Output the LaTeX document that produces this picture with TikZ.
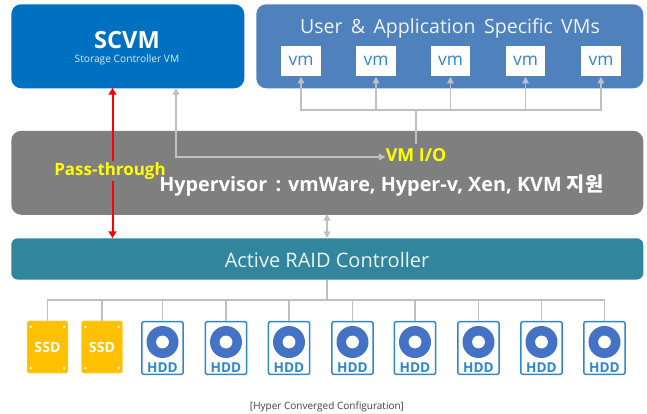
\documentclass[tikz,border=0pt]{standalone}
\usepackage{fontspec}
\setmainfont{Open Sans}
\newfontfamily\cjk{Noto Sans CJK KR}
\usetikzlibrary{arrows.meta}
\definecolor{scvmblue}{HTML}{0070C0}
\definecolor{userblue}{HTML}{4F81BD}
\definecolor{hypgray}{HTML}{7F7F7F}
\definecolor{raidteal}{HTML}{31859C}
\definecolor{ssdgold}{HTML}{FFC000}
\definecolor{hddedge}{HTML}{2E86CC}
\definecolor{hddblue}{HTML}{4472C4}
\definecolor{linkgray}{HTML}{BFBFBF}
\definecolor{vmtext}{HTML}{2E86C8}
\definecolor{ioyellow}{HTML}{FFFF00}
\tikzset{
  x=0.75pt,y=-0.75pt,
  panel/.style={rounded corners=7.5pt,inner sep=0pt,anchor=north west},
  vmbox/.style={fill=white,minimum width=29.5pt,minimum height=23.2pt,inner sep=0pt,text=vmtext,font=\fontsize{13}{13}\selectfont},
  link/.style={draw=linkgray,line width=1.1pt},
  linkarrow/.style={link,-{Triangle[length=5pt,width=5pt]}},
  ssdbox/.style={fill=ssdgold,draw=ssdgold!70!white,line width=.4pt,rounded corners=1.5pt,minimum width=30.5pt,minimum height=39pt,inner sep=0pt,text=white,font=\fontsize{10.6}{11}\selectfont\bfseries},
  hddbox/.style={draw=hddedge,line width=1.1pt,fill=white,rounded corners=1.5pt,minimum width=31pt,minimum height=39.5pt,inner sep=0pt},
  hddlabel/.style={text=hddedge,font=\fontsize{10.2}{11}\selectfont\bfseries,inner sep=0pt},
}
\newcommand{\ssdunit}[3]{%
  \node[ssdbox] (#1) at (#2,347) {#3};
  \foreach \dx in {-16.5,16.5}\foreach \dy in {-20,21}
    \fill[white] (#2+\dx,347+\dy) circle (1pt);
}
\newcommand{\hddunit}[2]{%
  \node[hddbox] (#1) at (#2,348) {};
  \fill[hddblue] (#2,342) circle (12pt);
  \fill[white] (#2,342) circle (4.8pt);
  \node[hddlabel] at (#2,367.5) {HDD};
}
\begin{document}
\begin{tikzpicture}
\useasboundingbox (0,0) rectangle (647,414);
% panels
\node[panel,fill=scvmblue,minimum width=174.75pt,minimum height=63pt] (scvm) at (11,4) {};
\node[panel,fill=userblue,minimum width=290.25pt,minimum height=63pt] (user) at (256,4) {};
\node[panel,fill=hypgray,minimum width=474pt,minimum height=63pt] (hyper) at (11,130.5) {};
\node[panel,rounded corners=5pt,fill=raidteal,minimum width=474pt,minimum height=31pt] (raid) at (11,238) {};
% panel texts
\node[text=white,font=\fontsize{17.7}{18}\selectfont\bfseries,inner sep=0pt] (scvmt) at (127,40.5) {SCVM};
\node[text=white!85!scvmblue,font=\fontsize{7.65}{8}\selectfont,inner sep=0pt] (scvms) at (127,59.5) {Storage Controller VM};
\node[text=white!90!userblue,font=\fontsize{14.67}{16}\selectfont,inner sep=0pt] (usert) at (450,28.5) {User \,\&\, Application \,Specific \,VMs};
\node[text=white!90!raidteal,font=\fontsize{15}{16}\selectfont,inner sep=0pt] (raidt) at (327,260) {Active RAID Controller};
% vm boxes
\node[vmbox] (vm1) at (301,61) {vm};
\node[vmbox] (vm2) at (376,61) {vm};
\node[vmbox] (vm3) at (450.5,61) {vm};
\node[vmbox] (vm4) at (525.5,61) {vm};
\node[vmbox] (vm5) at (601,61) {vm};
% VM I/O fabric
\coordinate (stemtop) at (416,110);
\coordinate (stembot) at (416,144);
\draw[link] (stemtop) -- (stembot);
\foreach \i in {1,...,5}
  \draw[linkarrow] (stemtop) -| (vm\i.south);
\coordinate (scvmport) at (176,88);
\node[text=ioyellow,font=\fontsize{13.4}{14}\selectfont\bfseries,inner sep=0pt,anchor=west] (vmio) at (385.5,155.5) {VM I/O};
\coordinate (ioelbow) at (176,157);
\draw[link,{Triangle[length=5pt,width=5pt]}-{Triangle[length=5pt,width=5pt]}] (scvmport) -- (ioelbow) -- (vmio.west |- ioelbow);
% pass-through
\coordinate (redtop) at (112.5,88);
\coordinate (redbot) at (112.5,238);
\draw[red,line width=1.5pt,{Triangle[length=5pt,width=6pt]}-{Triangle[length=5pt,width=6pt]}] (redtop) -- (redbot);
\node[fill=hypgray,text=ioyellow,font=\fontsize{12.7}{13}\selectfont\bfseries,inner xsep=0pt,inner ysep=1pt] (pass) at (110,171) {Pass-through};
\node[text=white,font=\fontsize{14.85}{16}\selectfont\bfseries,inner sep=0pt,anchor=west] (hypt) at (159,185.5) {Hypervisor\, : vmWare, Hyper-v, Xen, KVM {\cjk 지원}};
% hypervisor <-> raid
\coordinate (uplink) at (327,214);
\coordinate (downlink) at (327,238);
\draw[link,{Triangle[length=5pt,width=5pt]}-{Triangle[length=5pt,width=5pt]}] (uplink) -- (downlink);
% drives
\ssdunit{d1}{47.5}{SSD}
\ssdunit{d2}{102}{SSD}
\hddunit{d3}{162.5}
\hddunit{d4}{226}
\hddunit{d5}{289}
\hddunit{d6}{352.5}
\hddunit{d7}{415}
\hddunit{d8}{478.5}
\hddunit{d9}{541.5}
\hddunit{d10}{604.5}
% raid bus
\coordinate (busjoin) at (327,300);
\draw[link] (busjoin |- raid.south) -- (busjoin);
\foreach \i in {1,...,10}
  \draw[link,line width=.9pt] (busjoin) -| (d\i.north);
% caption
\node[text=black!75,font=\fontsize{7.5}{8}\selectfont,inner sep=0pt] (cap) at (327,407) {[Hyper Converged Configuration]};
\end{tikzpicture}
\end{document}
